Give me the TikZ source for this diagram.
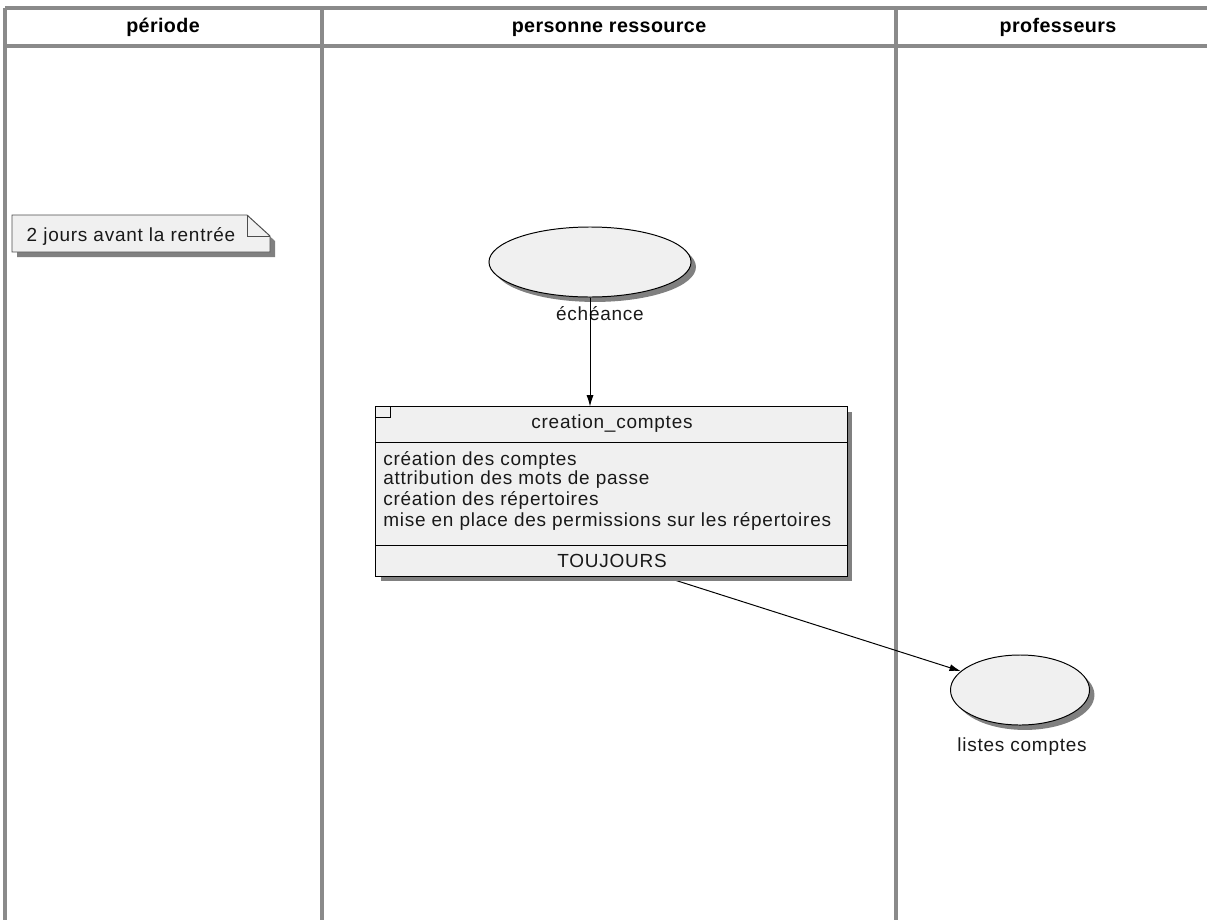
\documentclass[tikz,border=0pt]{standalone}
\usepackage{fontspec}
\setmainfont{Liberation Sans}
\newfontfamily\uif[LetterSpace=4]{Liberation Sans}
\newfontfamily\hdf[LetterSpace=2]{Liberation Sans}
\usetikzlibrary{arrows.meta,shapes.geometric,shadows}
\definecolor{lanegray}{HTML}{8A8A8A}
\definecolor{shapefill}{HTML}{F0F0F0}
\definecolor{shadowgray}{HTML}{808080}
\tikzset{
  lane/.style={draw=lanegray,line width=2.2pt},
  hdr/.style={font=\hdf\bfseries\fontsize{14}{16}\selectfont,inner sep=0pt,anchor=base},
  txt/.style={font=\uif\fontsize{13.5}{15}\selectfont,inner sep=0pt,text=black!90},
  shd/.style={drop shadow={shadow xshift=3.5pt,shadow yshift=-3.5pt,fill=shadowgray,opacity=1}},
  usecase/.style={ellipse,draw=black,line width=0.7pt,fill=shapefill,shd,inner sep=0pt},
  actbox/.style={rectangle,draw=black,line width=0.7pt,fill=shapefill,shd,inner sep=0pt},
  conn/.style={draw=black,line width=0.7pt,-{Latex[length=8pt,width=5pt]}}
}
\begin{document}
\begin{tikzpicture}[x=0.025cm,y=-0.025cm]
\useasboundingbox (0,0) rectangle (1207,920);
% lanes
\draw[lane] (5,8) -- (1207,8);
\draw[lane] (5,46) -- (1207,46);
\draw[lane] (5,8) -- (5,920);
\draw[lane] (322,8) -- (322,920);
\draw[lane] (896,8) -- (896,920);
\node[hdr] (h1) at (163,33) {période};
\node[hdr] (h2) at (609,33) {personne ressource};
\node[hdr] (h3) at (1058,33) {professeurs};
% note
\fill[shadowgray] (17,220) -- (252,220) -- (275,241) -- (275,257) -- (17,257) -- cycle;
\draw[fill=shapefill,line width=0.7pt,draw=black!70] (12,215) -- (247,215) -- (270,236) -- (270,252) -- (12,252) -- cycle;
\draw[line width=0.7pt,draw=black!70] (247,215) -- (247,236) -- (270,236);
\node[txt] (note) at (131,236) {2 jours avant la rentrée};
% arrow 2 (under shapes)
\node[usecase,minimum width=3.475cm,minimum height=1.75cm] (lc) at (1020,690) {};
\node[txt] (lcl) at (1022,747) {listes comptes};
\coordinate (a2) at (662,576);
\draw[conn] (a2) -- (lc);
% echeance
\node[usecase,minimum width=5.05cm,minimum height=1.75cm] (ech) at (590,262) {};
\node[txt] (echl) at (600,314) {échéance};
% activity box
\node[actbox,minimum width=11.775cm,minimum height=4.225cm] (crt) at (611.5,491.5) {};
\draw[line width=0.7pt] (crt.north west) rectangle ++(15,11);
\draw[line width=0.7pt] (crt.west |- 0,442) -- (crt.east |- 0,442);
\draw[line width=0.7pt] (crt.west |- 0,545) -- (crt.east |- 0,545);
\node[txt] (title) at (612,424) {creation\_comptes};
\node[txt,anchor=west] (i1) at (383,460) {création des comptes};
\node[txt,anchor=west] (i2) at (383,480) {attribution des mots de passe};
\node[txt,anchor=west] (i3) at (383,500) {création des répertoires};
\node[txt,anchor=west] (i4) at (383,521) {mise en place des permissions sur les répertoires};
\node[txt] (tj) at (612,561) {TOUJOURS};
% arrow 1
\draw[conn] (ech.south) -- (ech.south |- crt.north);
\end{tikzpicture}
\end{document}
